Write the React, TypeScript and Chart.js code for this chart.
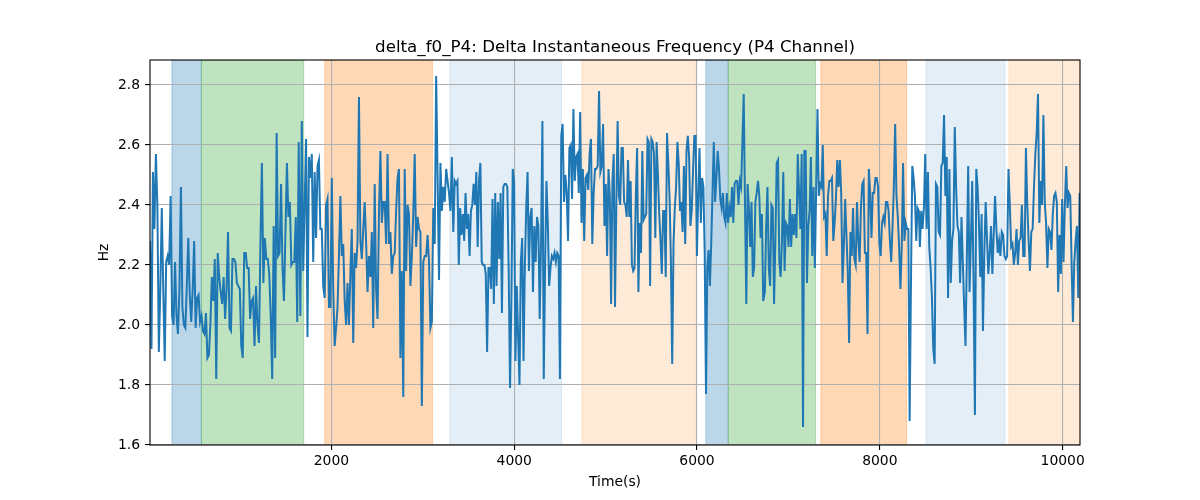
import React, { useEffect, useRef } from "react";
import { Chart, registerables } from "chart.js";

Chart.register(...registerables);

// ---- data ----
const TITLE = "delta_f0_P4: Delta Instantaneous Frequency (P4 Channel)";
const X_LABEL = "Time(s)";
const Y_LABEL = "Hz";

const X_MIN = 15;
const X_MAX = 10190;
const Y_MIN = 1.6;
const Y_MAX = 2.883;
const xTicks = [2000, 4000, 6000, 8000, 10000];
const yTicks = [1.6, 1.8, 2.0, 2.2, 2.4, 2.6, 2.8];

// time span covered by each block of samples (seconds)
const segStart = [15, 1660, 3364, 5060, 6742, 8438];
const segEnd = [1642, 3349, 5046, 6724, 8427, 10186];

const seg1 = [
  2.28, 1.92, 2.51, 2.32, 2.57, 2.4, 1.91, 2.12, 2.39, 2.12, 1.88, 2.21, 2.23, 2.2, 2.43, 2.03, 2.0, 2.21, 2.03, 1.97,
  2.12, 2.46, 2.06, 2.0, 1.99, 2.13, 2.29, 2.1, 2.01, 2.12, 2.28, 1.99, 2.09, 2.1, 2.01, 2.03, 1.98, 1.97, 2.04, 1.89,
  1.9, 2.0, 2.16, 2.08, 2.22, 1.82, 2.24, 2.16, 2.11, 2.07, 2.16, 2.02, 2.12, 2.31, 1.99, 1.98, 2.22, 2.22, 2.21, 2.14,
  2.13, 2.12, 1.93, 1.89, 2.24, 2.24, 2.19, 2.19, 2.02, 2.08, 2.09, 1.93, 2.13, 2.0, 1.94, 2.27, 2.54, 2.14, 2.29, 2.22,
  2.22, 2.17, 2.03, 1.82, 2.33, 1.89, 2.64, 2.23, 2.24, 2.47, 2.19, 2.08, 2.31, 2.54, 2.36, 2.41, 2.2, 2.21, 2.21, 2.36,
  2.01, 2.61,
];
const seg2 = [
  2.03, 2.68, 2.18, 2.4, 2.62, 1.96, 2.56, 2.49, 2.57, 2.21, 2.51, 2.29, 2.53, 2.55, 2.32, 2.32, 2.13, 2.09, 2.4, 2.42,
  2.06, 2.06, 2.49, 2.12, 1.93, 1.99, 2.06, 2.23, 2.43, 2.23, 2.27, 2.08, 2.0, 2.14, 2.0, 2.17, 2.32, 1.94, 2.24, 2.19,
  2.28, 2.76, 2.28, 2.22, 2.32, 2.41, 2.28, 2.11, 2.23, 2.16, 2.31, 1.99, 2.47, 2.12, 2.02, 2.37, 2.58, 2.34, 2.41, 2.41,
  2.27, 2.57, 2.27, 2.31, 2.17, 2.23, 2.24, 2.38, 2.49, 2.52, 1.89, 2.18, 1.76, 2.52, 2.18, 2.4, 2.37, 2.13, 2.23, 2.37,
  2.57, 2.26, 2.36, 2.32, 2.31, 1.73, 2.21, 2.23, 2.23, 2.3, 2.21, 1.99, 2.01, 2.39, 2.27, 2.83, 2.5, 2.15, 2.54, 2.38,
  2.46, 2.41, 2.52, 2.48, 2.44, 2.38, 2.56, 2.31, 2.48,
];
const seg3 = [
  2.47, 2.48, 2.2, 2.39, 2.3, 2.37, 2.28, 2.44, 2.32, 2.37, 2.23, 2.38, 2.4, 2.47, 2.4, 2.51, 2.26, 2.48, 2.54, 2.21,
  2.2, 2.2, 2.17, 1.91, 2.19, 2.19, 2.12, 2.42, 2.07, 2.44, 2.13, 2.41, 2.22, 2.44, 2.04, 2.46, 2.47, 2.47, 2.46, 2.18,
  1.79, 2.08, 2.52, 2.48, 1.88, 2.13, 1.96, 1.8, 2.21, 2.29, 1.88, 2.2, 2.39, 2.51, 2.18, 2.36, 2.39, 2.11, 2.33, 2.21,
  2.36, 2.33, 2.02, 2.28, 2.68, 1.82, 2.2, 2.48, 2.34, 2.13, 2.19, 2.23, 2.22, 2.24, 2.21, 2.24, 2.23, 1.82, 2.63, 2.67,
  2.41, 2.5, 2.44, 2.28, 2.59, 2.6, 2.42, 2.72, 2.48, 2.56, 2.57, 2.44, 2.71, 2.34, 2.52, 2.28, 2.49, 2.5, 2.45, 2.57,
  2.62, 2.27, 2.44, 2.52, 2.52, 2.53, 2.78, 2.51, 2.53, 2.67, 2.33, 2.47, 2.23, 2.52, 2.43,
];
const seg4 = [
  2.07, 2.48, 2.57, 2.06, 2.4, 2.68, 2.43, 2.4, 2.59, 2.59, 2.41, 2.4, 2.36, 2.55, 2.36, 2.48, 2.2, 2.18, 2.19, 2.43,
  2.59, 2.11, 2.34, 2.24, 2.58, 2.35, 2.36, 2.37, 2.62, 2.61, 2.13, 2.62, 2.61, 2.57, 2.29, 2.61, 2.5, 2.37, 2.28, 2.17,
  2.38, 2.38, 2.16, 2.64, 2.54, 2.42, 2.21, 1.87, 2.27, 2.39, 2.46, 2.61, 2.54, 2.38, 2.41, 2.31, 2.53, 2.27, 2.58, 2.63,
  2.56, 2.33, 2.38, 2.51, 2.63, 2.63, 2.23, 2.43, 2.59, 2.34, 2.49, 2.46, 2.24, 1.77, 2.19, 2.25, 2.13, 2.27, 2.44, 2.61,
  2.41, 2.49, 2.58, 2.52, 2.42, 2.39, 2.44, 2.36, 2.34, 2.44, 2.34, 2.39, 2.36, 2.46, 2.34, 2.47, 2.48, 2.48, 2.4, 2.48,
  2.46, 2.61, 2.77, 2.4, 2.07, 2.47, 2.39, 2.26, 2.41, 2.16, 2.19, 2.41, 2.44, 2.48, 2.43, 2.29, 2.37, 2.08,
];
const seg5 = [
  2.11, 2.33, 2.46, 2.19, 2.13, 2.4, 2.39, 2.07, 2.28, 2.54, 2.55, 2.21, 2.16, 2.28, 2.51, 2.18, 2.34, 2.33, 2.26, 2.42,
  2.26, 2.37, 2.3, 2.37, 2.29, 2.57, 2.44, 2.32, 2.57, 1.66, 2.58, 2.58, 2.14, 2.33, 2.38, 2.56, 2.23, 2.46, 2.19, 2.46,
  2.72, 2.43, 2.47, 2.46, 2.6, 2.36, 2.37, 2.23, 2.43, 2.48, 2.48, 2.49, 2.28, 2.34, 2.42, 2.55, 2.46, 2.55, 2.44, 2.14,
  2.26, 2.42, 2.3, 2.18, 1.94, 2.31, 2.23, 2.39, 2.22, 2.2, 2.41, 2.28, 2.21, 2.39, 2.47, 2.48, 2.24, 2.24, 1.97, 2.52,
  2.44, 2.29, 2.44, 2.44, 2.49, 2.49, 2.46, 2.27, 2.23, 2.34, 2.36, 2.34, 2.41, 2.41, 2.38, 2.28, 2.21, 2.33, 2.46, 2.67,
  2.43, 2.36, 2.26, 2.12, 2.26, 2.54, 2.28, 2.34, 2.32, 2.32, 1.68, 2.14, 2.53, 2.49, 2.43, 2.28, 2.39, 2.38,
];
const seg6 = [
  2.26, 2.38, 2.32, 2.39, 2.57, 2.32, 2.51, 2.26, 2.19, 2.09, 1.92, 1.87, 2.47, 2.46, 2.31, 2.3, 2.53, 2.54, 2.7, 2.43,
  2.56, 2.09, 2.52, 2.14, 2.28, 2.32, 2.66, 2.46, 2.33, 2.31, 2.14, 2.36, 2.21, 2.06, 1.93, 2.23, 2.53, 2.11, 2.28, 2.48,
  2.14, 1.7, 2.52, 2.46, 2.34, 2.16, 2.37, 1.98, 2.24, 2.41, 2.29, 2.17, 2.24, 2.33, 2.17, 2.3, 2.43, 2.32, 2.24, 2.28,
  2.23, 2.31, 2.3, 2.23, 2.22, 2.23, 2.52, 2.4, 2.26, 2.27, 2.2, 2.24, 2.32, 2.2, 2.28, 2.29, 2.4, 2.23, 2.23, 2.59,
  2.4, 2.28, 2.18, 2.31, 2.32, 2.46, 2.57, 2.64, 2.77, 2.34, 2.48, 2.4, 2.7, 2.41, 2.34, 2.19, 2.32, 2.31, 2.25, 2.37,
  2.43, 2.44, 2.41, 2.11, 2.3, 2.17, 2.42, 2.21, 2.4, 2.53, 2.39, 2.44, 2.43, 2.21, 2.01, 2.21, 2.28, 2.33, 2.09, 2.44,
];
const segments = [seg1, seg2, seg3, seg4, seg5, seg6];

// shaded phases
const spanStarts = [255, 577, 1927, 3295, 4739, 6096, 6341, 7355, 8504, 9412];
const spanEnds = [577, 1697, 3105, 4517, 5987, 6341, 7296, 8293, 9369, 10190];
const spanColors = [
  "rgba(31,119,180,0.3)",
  "rgba(44,160,44,0.3)",
  "rgba(255,127,14,0.3)",
  "rgba(31,119,180,0.12)",
  "rgba(255,127,14,0.16)",
  "rgba(31,119,180,0.3)",
  "rgba(44,160,44,0.3)",
  "rgba(255,127,14,0.3)",
  "rgba(31,119,180,0.12)",
  "rgba(255,127,14,0.16)",
];

const FONT = "'DejaVu Sans', 'Liberation Sans', sans-serif";

function buildPoints() {
  const pts: { x: number; y: number }[] = [];
  segments.forEach((seg, k) => {
    const n = seg.length;
    const t0 = segStart[k];
    const t1 = segEnd[k];
    seg.forEach((v, i) => {
      const t = n > 1 ? t0 + ((t1 - t0) * i) / (n - 1) : t0;
      pts.push({ x: t, y: v });
    });
  });
  return pts;
}

const spansPlugin = {
  id: "spans",
  beforeDraw(chart: any) {
    const { ctx, chartArea, scales } = chart;
    const xs = scales.x;
    ctx.save();
    ctx.beginPath();
    ctx.rect(chartArea.left, chartArea.top, chartArea.right - chartArea.left, chartArea.bottom - chartArea.top);
    ctx.clip();
    for (let i = 0; i < spanStarts.length; i++) {
      const a = xs.getPixelForValue(spanStarts[i]);
      const b = xs.getPixelForValue(spanEnds[i]);
      ctx.fillStyle = spanColors[i];
      ctx.fillRect(a, chartArea.top, b - a, chartArea.bottom - chartArea.top);
      ctx.strokeStyle = spanColors[i];
      ctx.lineWidth = 1;
      ctx.strokeRect(a, chartArea.top, b - a, chartArea.bottom - chartArea.top);
    }
    ctx.restore();
  },
  afterDatasetsDraw(chart: any) {
    const { ctx, chartArea } = chart;
    ctx.save();
    ctx.strokeStyle = "#000";
    ctx.lineWidth = 1.1;
    ctx.strokeRect(chartArea.left, chartArea.top, chartArea.right - chartArea.left, chartArea.bottom - chartArea.top);
    ctx.restore();
  },
  afterDraw(chart: any) {
    const { ctx, chartArea } = chart;
    const cx = (chartArea.left + chartArea.right) / 2;
    const cy = (chartArea.top + chartArea.bottom) / 2;
    ctx.save();
    ctx.fillStyle = "#000";
    ctx.textAlign = "center";
    ctx.textBaseline = "alphabetic";
    ctx.font = `16.7px ${FONT}`;
    ctx.fillText(TITLE, cx, 52);
    ctx.font = `13.9px ${FONT}`;
    ctx.fillText(X_LABEL, cx, 486);
    ctx.translate(107.5, cy);
    ctx.rotate(-Math.PI / 2);
    ctx.fillText(Y_LABEL, 0, 0);
    ctx.restore();
  },
};

export default function App() {
  const ref = useRef<HTMLCanvasElement | null>(null);

  useEffect(() => {
    if (!ref.current) return;
    const chart = new Chart(ref.current, {
      type: "line",
      data: {
        datasets: [
          {
            data: buildPoints(),
            borderColor: "#1f77b4",
            borderWidth: 2,
            pointRadius: 0,
            tension: 0,
            fill: false,
          },
        ],
      },
      options: {
        animation: false,
        responsive: false,
        devicePixelRatio: 1,
        parsing: false as any,
        layout: { padding: { left: 0, right: 120, top: 60, bottom: 0 } },
        plugins: {
          legend: { display: false },
          tooltip: { enabled: false },
          title: { display: false },
        },
        scales: {
          x: {
            type: "linear",
            min: X_MIN,
            max: X_MAX,
            afterFit(scale: any) {
              scale.height = 55;
            },
            afterBuildTicks(scale: any) {
              scale.ticks = xTicks.map((v) => ({ value: v }));
            },
            border: { display: false },
            grid: {
              color: "#b0b0b0",
              lineWidth: 1.1,
              tickLength: 5,
              tickColor: "#000",
              tickWidth: 1.1,
            },
            ticks: {
              autoSkip: false,
              maxRotation: 0,
              color: "#000",
              padding: 3,
              font: { family: FONT, size: 13.9 },
              callback: (v: any) => String(v),
            },
          },
          y: {
            type: "linear",
            min: Y_MIN,
            max: Y_MAX,
            afterFit(scale: any) {
              scale.width = 150;
            },
            afterBuildTicks(scale: any) {
              scale.ticks = yTicks.map((v) => ({ value: v }));
            },
            border: { display: false },
            grid: {
              color: "#b0b0b0",
              lineWidth: 1.1,
              tickLength: 5,
              tickColor: "#000",
              tickWidth: 1.1,
            },
            ticks: {
              autoSkip: false,
              color: "#000",
              padding: 5,
              font: { family: FONT, size: 13.9 },
              callback: (v: any) => Number(v).toFixed(1),
            },
          },
        },
      },
      plugins: [spansPlugin],
    });
    return () => chart.destroy();
  }, []);

  return (
    <div style={{ position: "fixed", left: 0, top: 0, width: 1200, height: 500, background: "#fff" }}>
      <canvas ref={ref} width={1200} height={500} style={{ width: 1200, height: 500, display: "block" }} />
    </div>
  );
}
